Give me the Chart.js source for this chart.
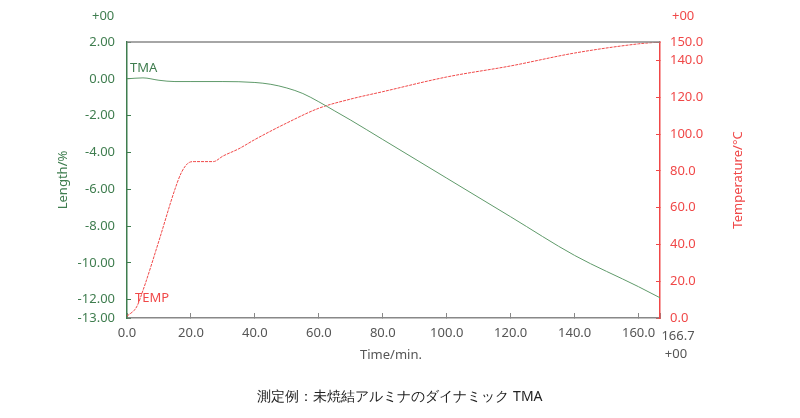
<!DOCTYPE html>
<html><head><meta charset="utf-8">
<script src="https://cdn.jsdelivr.net/npm/chart.js@4"></script>
<style>html,body{margin:0;padding:0;background:#fff}#w{width:800px;height:418px}</style>
</head><body><div id="w"><canvas id="c"></canvas></div>
<script>
const timeTMA = [0,5,10,15,20,30,40,45,50,55,60,65,70,80,100,120,140,160,166.7];
const tmaValues = [0,0.05,-0.08,-0.15,-0.15,-0.15,-0.2,-0.3,-0.5,-0.8,-1.25,-1.75,-2.25,-3.3,-5.4,-7.5,-9.6,-11.3,-11.9];
const timeTEMP = [0,3,5,10,15,17,19,21,27,30,35,40,50,60,70,80,100,120,140,160,166.7];
const tempValues = [1,6,15,42,70,79,84,85,85,88,92,97,106,114,119,123,131,137,144,149,150];
const lengthTicks = [2,0,-2,-4,-6,-8,-10,-12,-13];
const tempTicks = [0,20,40,60,80,100,120,140,150];
const timeTicks = [0,20,40,60,80,100,120,140,160,166.7];
const G='#3f7d4f', GL='#5f9a6a', R='#f04848', GR='#888';
const F='"Noto Sans", "Open Sans", sans-serif';
const fixTicks=(arr)=>function(a){a.ticks=arr.map(v=>({value:v}));};
new Chart(document.getElementById('c'),{
type:'line',
data:{datasets:[
{data:timeTMA.map((x,i)=>({x,y:tmaValues[i]})),yAxisID:'y',borderColor:GL,borderWidth:1,pointRadius:0,cubicInterpolationMode:'monotone'},
{data:timeTEMP.map((x,i)=>({x,y:tempValues[i]})),yAxisID:'y1',borderColor:R,borderWidth:1,pointRadius:0,borderDash:[3,1],cubicInterpolationMode:'monotone'}
]},
options:{responsive:true,maintainAspectRatio:false,animation:false,
plugins:{legend:{display:false},tooltip:{enabled:false}},
layout:{padding:{top:42,left:0,right:0,bottom:0}},
scales:{
x:{type:'linear',min:0,max:166.7,afterBuildTicks:fixTicks(timeTicks),afterFit:s=>{s.height=100;},
 border:{color:GR,width:1.5},grid:{drawOnChartArea:false,drawTicks:true,tickLength:-5,color:GR},
 ticks:{color:'#555',font:{family:F,size:13},padding:12,autoSkip:false,maxRotation:0,callback:v=>v>166?'':v.toFixed(1)}},
y:{position:'left',min:-13,max:2,afterBuildTicks:fixTicks(lengthTicks),afterFit:s=>{s.width=127;},
 border:{color:G,width:1.5},grid:{drawOnChartArea:false,tickLength:-4,color:G},
 ticks:{color:G,font:{family:F,size:13},padding:16,callback:v=>v.toFixed(2)}},
y1:{position:'right',min:0,max:150,afterBuildTicks:fixTicks(tempTicks),afterFit:s=>{s.width=140;},
 border:{color:R,width:1.5},grid:{drawOnChartArea:false,tickLength:-4,color:R},
 ticks:{color:R,font:{family:F,size:13},padding:14,callback:v=>v.toFixed(1)}}
}},
plugins:[{id:'t',afterDraw(c){const x=c.ctx,a=c.chartArea;x.save();
x.strokeStyle=GR;x.lineWidth=1.5;x.beginPath();x.moveTo(a.left,a.top);x.lineTo(a.right,a.top);x.stroke();
x.font='13px '+F;x.textBaseline='middle';
x.fillStyle=G;x.textAlign='left';x.fillText('+00',92,16);x.fillText('TMA',130,68);
x.fillStyle=R;x.fillText('+00',672,16);x.fillText('TEMP',135,298);
x.fillStyle='#555';x.textAlign='center';x.fillText('166.7',678,336);x.fillText('+00',676,354);x.fillText('Time/min.',391,355);
x.fillStyle=G;x.translate(63,180);x.rotate(-Math.PI/2);x.fillText('Length/%',0,0);x.setTransform(1,0,0,1,0,0);
x.fillStyle=R;x.translate(738,180);x.rotate(-Math.PI/2);x.fillText('Temperature/°C',0,0);x.setTransform(1,0,0,1,0,0);
x.fillStyle='#222';x.font='14px '+F;x.fillText('測定例：未焼結アルミナのダイナミック TMA',400,397);
x.restore();}}]
});
</script></body></html>
